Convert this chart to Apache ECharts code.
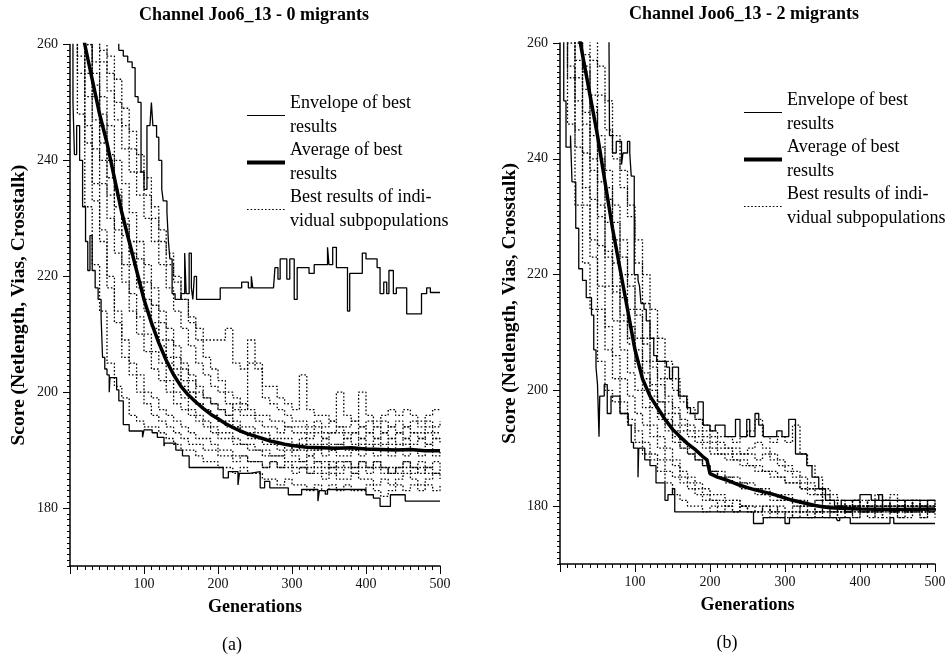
<!DOCTYPE html>
<html>
<head>
<meta charset="utf-8">
<script src="https://cdn.jsdelivr.net/npm/echarts@6/dist/echarts.min.js"></script>
<style>html,body{margin:0;padding:0;background:#fff}#c{width:952px;height:658px}</style>
</head>
<body>
<div id="c"></div>
<script>
// ---------- tick labels ----------
const xTickLabels = [100, 200, 300, 400, 500];
const yTickLabels = [180, 200, 220, 240, 260];

// ---------- legend names ----------
const NAME_ENV = 'Envelope of best results';
const NAME_AVG = 'Average of best results';
const NAME_SUB = 'Best results of individual subpopulations';
const legendText = {};
legendText[NAME_ENV] = 'Envelope of best\nresults';
legendText[NAME_AVG] = 'Average of best\nresults';
legendText[NAME_SUB] = 'Best results of indi-\nvidual subpopulations';

// ---------- panel (a): 0 migrants ----------
const envA_hi = [[0,268],[65,268],[66,259],[72,258],[78,257],[84,256],[88,251],[92,250],[96,238],[100,235],[104,246],[108,246],[110,250],[112,246],[117,244],[120,240],[124,235],[126,233],[131,231],[133,226],[135,223],[138,217],[142,216],[150,217],[155,224],[157,217],[161,224],[164,218],[166,216],[168,220],[171,216],[203,218],[232,219],[241,218],[245,220],[247,218],[256,218],[275,218],[277,221.5],[281,219.5],[284,223],[293,219.5],[297,223],[303,216],[307,221.5],[323,220.5],[330,222],[336,222],[348,225],[350,222],[355,225],[360,221.5],[375,214],[378,220.5],[392,220.5],[395,224],[400,223],[412,223],[415,221.5],[419,217],[424,219],[428,217],[431,221],[437,217],[441,218],[455,213.5],[475,217],[482,218],[487,217.2],[500,217.2]];
const envA_lo = [[0,266],[4,250],[6,241],[9,246],[13,240],[17,232],[21,226],[24,221],[27,227],[30,221],[34,218],[38,216],[42,213],[44,206],[47,204],[50,203],[53,200],[54,202.5],[63,200.4],[66,198.5],[72,194.4],[80,193.3],[98,192.2],[100,193.5],[111,193],[118,192.2],[127,190.7],[128,191.2],[143,190],[152,189],[161,187],[207,185.2],[214,186.3],[227,184],[229,186],[243,186.3],[257,183.5],[263,184.6],[270,183.5],[295,182.3],[313,183.2],[335,181.2],[337,183],[345,182.4],[348,183.2],[396,183.2],[400,182.3],[410,181.7],[419,180.3],[433,182.3],[453,181.2],[500,181.2]];
const avgA_gen = [0,10,20,30,40,50,60,70,80,90,100,110,120,130,140,150,160,170,180,190,200,210,220,230,240,250,260,270,280,290,300,320,340,360,380,400,420,440,460,480,500];
const avgA_val = [275,268,260,254,248,243,237,231,226,221,216,212,208.5,205.5,203,201,199.5,198.3,197.2,196.2,195.4,194.6,193.9,193.3,192.8,192.4,192,191.6,191.3,191,190.8,190.5,190.4,190.3,190.4,190.2,190.1,190,190.1,189.9,189.9];

// generations at which the subpopulation curves are sampled
const subGen = [0,10,20,30,40,50,60,70,80,90,100,110,120,130,140,150,160,170,180,190,200,210,220,230,240,250,260,270,280,290,300,310,320,330,340,350,360,370,380,390,400,410,420,430,440,450,460,470,480,490,500];

const subA1 = [262,248,232,222,214,205,201,199,196,195,194,194,193,192,191,190,190,189,188,188,187,187,186,187,186,186,185,185,184,185,184,184,183,184,183,184,183,184,183,183,184,183,182,183,184,183,184,183,184,183,184];
const subA2 = [268,258,246,236,228,220,214,209,205,203,200,199,197,196,195,194,193,192,192,191,190,190,189,189,188,188,187,188,187,187,186,187,186,186,185,186,185,185,186,185,185,184,185,184,185,186,185,184,185,186,185];
const subA3 = [270,264,255,247,240,234,228,222,217,213,210,207,205,202,200,199,197,196,195,194,193,193,192,191,191,190,190,189,189,190,189,188,189,188,188,187,188,188,187,188,187,188,187,186,187,188,187,186,187,188,187];
const subA4 = [272,266,260,253,246,240,234,229,224,219,216,212,209,206,204,202,200,198,197,196,195,194,194,193,192,192,191,191,190,191,190,190,189,190,189,190,189,189,190,189,190,189,190,189,190,189,190,189,190,189,190];
const subA5 = [275,268,262,257,251,246,240,236,231,226,222,218,214,211,208,205,203,201,199,198,197,196,195,194,194,193,193,192,192,192,191,192,191,191,192,191,191,192,191,192,191,192,191,192,191,192,191,192,191,192,191];
const subA6 = [278,272,266,261,257,252,247,242,238,234,230,226,222,218,214,211,208,205,203,201,200,198,197,196,196,195,194,194,193,194,193,193,192,193,192,193,193,192,193,192,193,192,193,192,193,192,193,192,193,192,192];
const subA7 = [280,274,269,264,259,255,250,246,242,238,234,230,226,222,219,216,213,211,209,209,209,211,205,204,205,204,201,201,199,198,197,203,197,196,196,195,200,196,195,200,196,195,196,197,196,197,196,195,196,197,197];
const subA8 = [276,270,263,255,248,241,235,230,226,223,219,215,212,209,206,204,202,200,199,198,197,196,198,197,209,205,199,198,197,196,195,195,194,195,194,195,194,194,195,194,195,194,195,194,195,194,195,194,195,194,195];
const subA9 = [265,255,243,233,226,218,212,206,203,200,198,196,195,194,193,192,191,191,190,190,189,189,188,189,188,188,187,188,187,188,187,187,186,187,186,187,186,187,186,187,186,187,186,187,186,187,186,187,186,186,186];
const subA10 = [279,276,271,267,262,258,254,249,245,241,237,232,228,224,220,216,212,209,206,204,202,200,199,198,197,196,196,195,195,194,194,194,193,194,193,193,194,193,193,194,193,194,193,194,193,194,193,193,194,193,193];
const subA11 = [271,262,251,242,236,230,224,219,214,210,207,204,202,200,198,197,196,195,194,193,192,192,191,191,190,190,189,189,189,188,188,188,187,188,187,188,187,188,187,188,187,188,187,186,187,188,187,188,187,186,187];
const subA12 = [277,269,260,251,243,237,232,227,222,218,214,211,208,205,203,201,200,198,197,196,195,195,194,193,193,192,192,191,191,191,190,191,190,190,191,190,191,190,190,191,190,191,190,191,190,191,190,190,191,190,190];

// ---------- panel (b): 2 migrants ----------
const envB_hi = [[0,268],[65,268],[66,244],[70,241],[75,243],[82,239],[84,241],[90,243],[93,241],[95,237],[99,220],[104,219],[106,218],[108,215],[112,214],[115,212],[120,209],[125,206],[129,205],[142,204],[146,202],[150,204],[158,199],[169,197],[174,196],[184,198],[191,194],[200,193],[207,194],[220,192],[234,195],[240,192],[249,195],[253,192],[260,196],[265,194],[271,192],[289,193],[296,192],[305,195],[314,189],[318,189],[329,187],[336,185],[345,183],[354,181],[366,180],[375,181],[400,182],[415,181],[425,182],[430,181],[500,181]];
const envB_lo = [[0,266],[5,250],[8,242],[14,244],[16,236],[21,228],[25,221],[30,219],[35,216],[42,213],[45,207],[48,204],[50,201],[52,192],[53,199],[59,201],[63,196],[68,199],[80,196],[91,194],[95,191],[98,190],[104,185],[105,190],[113,188],[120,187],[128,184],[140,181],[144,182],[150,183],[153,179],[250,179],[258,177],[271,178],[300,177],[306,178],[368,178],[370,177.5],[373,178],[387,177],[436,177],[440,178],[445,177],[500,177]];
const avgB_gen = [0,10,20,30,40,50,60,70,80,90,100,110,120,130,140,150,160,170,180,190,196,200,210,220,230,240,250,260,270,280,290,300,310,320,330,340,350,360,380,400,450,500];
const avgB_val = [282,273,265,258,251,244,236,228,221,214,207,202,199,197,195,193.3,192,190.8,189.8,188.6,188,185.6,185,184.6,184.1,183.6,183.2,182.8,182.5,182.2,181.8,181.4,181,180.7,180.4,180.1,179.9,179.7,179.6,179.5,179.4,179.5];

const subB1 = [262,246,232,222,214,205,200,198,196,194,191,189,188,186,184,182,181,180,180,179,180,179,180,179,180,179,179,178,179,178,179,178,179,178,179,178,179,178,179,178,179,178,179,178,179,178,178,179,178,179,178];
const subB2 = [268,256,245,235,226,218,211,206,202,199,196,194,192,190,188,187,185,184,183,182,181,181,180,181,180,180,179,180,179,180,179,179,180,179,179,180,179,179,180,179,180,179,180,179,180,179,180,179,180,179,180];
const subB3 = [272,263,254,246,238,230,223,217,212,208,204,200,197,195,193,191,190,189,188,187,186,186,185,185,184,184,183,183,182,182,182,181,181,180,181,180,179,180,179,180,179,180,181,180,179,180,179,180,181,180,180];
const subB4 = [275,268,260,252,244,236,229,222,216,211,207,203,200,198,196,194,193,192,191,190,189,189,188,188,187,187,186,186,185,185,184,184,183,183,182,181,181,180,180,181,180,181,180,181,182,181,180,181,180,181,181];
const subB5 = [278,272,265,258,251,244,238,232,226,220,214,209,205,202,199,197,195,194,193,192,191,190,190,189,189,190,191,190,189,188,187,186,185,184,183,182,181,180,179,180,179,180,179,180,179,180,179,180,179,180,179];
const subB6 = [280,275,269,263,257,251,245,240,235,230,222,215,209,205,202,200,198,196,195,194,193,192,192,191,192,193,195,192,191,192,191,194,189,187,185,183,182,181,180,181,180,181,182,181,180,181,180,181,180,181,180];
const subB7 = [270,260,250,241,233,225,218,212,207,203,200,197,194,192,190,188,186,185,184,183,182,182,181,181,180,180,180,179,180,179,179,180,179,179,180,179,179,180,179,179,180,179,179,180,179,180,179,179,180,179,179];
const subB8 = [276,270,262,255,248,240,233,226,220,214,209,205,201,198,195,193,191,190,188,187,186,185,185,184,184,183,183,182,182,181,181,181,180,180,181,180,180,179,180,181,180,179,180,181,180,179,180,181,180,179,180];
const subB9 = [266,254,242,232,223,214,207,202,198,195,193,191,189,188,186,185,184,183,182,181,181,180,180,179,180,179,179,180,179,179,178,179,179,178,179,179,178,179,179,178,179,179,178,179,179,178,179,179,178,179,179];
const subB10 = [281,277,272,267,262,256,250,244,238,232,226,220,214,209,205,202,199,197,195,193,192,191,190,190,189,189,188,189,188,187,186,185,184,183,183,182,181,181,180,180,181,180,180,181,180,180,181,180,180,181,180];
const subB11 = [273,265,257,248,240,232,224,218,213,209,205,202,199,196,194,192,190,189,188,187,186,185,184,184,183,183,182,182,181,181,181,180,180,180,179,180,179,180,179,180,179,180,179,180,179,180,179,180,179,180,179];
const subB12 = [277,270,264,256,249,242,235,229,223,218,213,208,204,201,198,196,194,193,192,191,190,189,189,188,188,187,187,186,186,185,184,184,183,182,182,181,180,180,179,180,179,180,181,180,179,180,181,180,179,180,180];

const subA = [subA1, subA2, subA3, subA4, subA5, subA6, subA7, subA8, subA9, subA10, subA11, subA12];
const subB = [subB1, subB2, subB3, subB4, subB5, subB6, subB7, subB8, subB9, subB10, subB11, subB12];

// ---------- build ----------
const FONT = '"Liberation Serif", "DejaVu Serif", serif';
const pairs = (g, v) => g.map((x, i) => [x, v[i]]);

function xMain(g) {
  return {
    type: 'value', gridIndex: g, position: 'bottom', min: 0, max: 500, interval: 10,
    axisLine: { show: true, onZero: false, lineStyle: { color: '#000', width: 1.5 } },
    axisTick: { show: true, length: 4, lineStyle: { color: '#000', width: 1 } },
    axisLabel: { customValues: xTickLabels, margin: 11, fontFamily: FONT, fontSize: 14, color: '#111' },
    splitLine: { show: false },
    name: 'Generations', nameLocation: 'middle', nameGap: 32,
    nameTextStyle: { fontFamily: FONT, fontSize: 18, fontWeight: 'bold', color: '#000' }
  };
}
function xMajor(g) {
  return {
    type: 'value', gridIndex: g, position: 'bottom', min: 0, max: 500, interval: 100,
    axisLine: { show: false, onZero: false },
    axisTick: { show: true, length: 8, lineStyle: { color: '#000', width: 1 } },
    axisLabel: { show: false }, splitLine: { show: false }
  };
}
function yMain(g, gap) {
  return {
    type: 'value', gridIndex: g, position: 'left', min: 170, max: 260, interval: 1,
    axisLine: { show: true, onZero: false, lineStyle: { color: '#000', width: 1.5 } },
    axisTick: { show: true, length: 3, lineStyle: { color: '#000', width: 1 } },
    axisLabel: { customValues: yTickLabels, margin: 12, fontFamily: FONT, fontSize: 14, color: '#111' },
    splitLine: { show: false },
    name: 'Score (Netlength, Vias, Crosstalk)', nameLocation: 'middle', nameGap: gap, nameRotate: 90,
    nameTextStyle: { fontFamily: FONT, fontSize: 19.5, fontWeight: 'bold', color: '#000' }
  };
}
function yMajor(g) {
  return {
    type: 'value', gridIndex: g, position: 'left', min: 170, max: 260, interval: 10,
    axisLine: { show: false, onZero: false },
    axisTick: { show: true, customValues: yTickLabels, length: 7, lineStyle: { color: '#000', width: 1 } },
    axisLabel: { show: false }, splitLine: { show: false }
  };
}

function panelSeries(ax, subs, hi, lo, avgG, avgV) {
  const out = [];
  subs.forEach(v => out.push({
    name: NAME_SUB, type: 'line', xAxisIndex: ax, yAxisIndex: ax, step: 'end',
    symbol: 'none', data: pairs(subGen, v),
    lineStyle: { color: '#000', width: 1.3, type: [1.6, 2] }, itemStyle: { color: '#000' }
  }));
  [hi, lo].forEach(d => out.push({
    name: NAME_ENV, type: 'line', xAxisIndex: ax, yAxisIndex: ax, step: 'end',
    symbol: 'none', data: d,
    lineStyle: { color: '#000', width: 1.3, type: 'solid' }, itemStyle: { color: '#000' }
  }));
  out.push({
    name: NAME_AVG, type: 'line', xAxisIndex: ax, yAxisIndex: ax,
    symbol: 'none', data: pairs(avgG, avgV),
    lineStyle: { color: '#000', width: 3.5, type: 'solid' }, itemStyle: { color: '#000' }
  });
  return out;
}

function legendAt(left, top) {
  return {
    data: [
      { name: NAME_ENV, lineStyle: { width: 1.2 } },
      { name: NAME_AVG, lineStyle: { width: 4 } },
      { name: NAME_SUB, lineStyle: { width: 1.2 } }
    ],
    left: left, top: top, orient: 'vertical',
    itemWidth: 38, itemHeight: 12, itemGap: 0, selectedMode: false,
    itemStyle: { opacity: 0, borderWidth: 0 },
    formatter: n => legendText[n],
    textStyle: { fontFamily: FONT, fontSize: 18, lineHeight: 23.5, color: '#000' }
  };
}

const chart = echarts.init(document.getElementById('c'), null, { renderer: 'canvas' });
chart.setOption({
  backgroundColor: '#fff',
  animation: false,
  grid: [
    { left: 70, top: 44.5, width: 370, height: 521.5 },
    { left: 560, top: 43, width: 375, height: 521 }
  ],
  xAxis: [xMain(0), xMajor(0), xMain(1), xMajor(1)],
  yAxis: [yMain(0, 41), yMajor(0), yMain(1, 40), yMajor(1)],
  legend: [legendAt(240, 87), legendAt(737, 84)],
  series: [].concat(
    panelSeries(0, subA, envA_hi, envA_lo, avgA_gen, avgA_val),
    panelSeries(2, subB, envB_hi, envB_lo, avgB_gen, avgB_val)
  ),
  graphic: [
    { type: 'text', x: 254, y: 15, style: { text: 'Channel Joo6_13 - 0 migrants', font: 'bold 18px "Liberation Serif"', fill: '#000', align: 'center', verticalAlign: 'middle' } },
    { type: 'text', x: 744, y: 14, style: { text: 'Channel Joo6_13 - 2 migrants', font: 'bold 18px "Liberation Serif"', fill: '#000', align: 'center', verticalAlign: 'middle' } },
    { type: 'text', x: 232, y: 645, style: { text: '(a)', font: '18px "Liberation Serif"', fill: '#000', align: 'center', verticalAlign: 'middle' } },
    { type: 'text', x: 727, y: 643, style: { text: '(b)', font: '18px "Liberation Serif"', fill: '#000', align: 'center', verticalAlign: 'middle' } }
  ]
});
</script>
</body>
</html>
